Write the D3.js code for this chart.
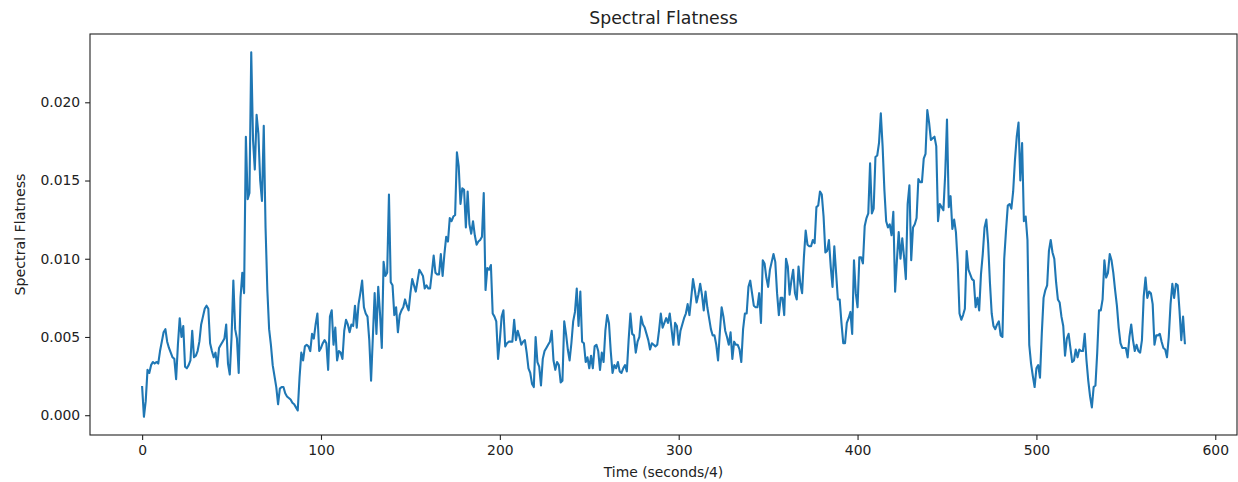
<!DOCTYPE html>
<html>
<head>
<script src="https://d3js.org/d3.v7.min.js"></script>
<style>
    body{margin:0;background:#fff;}
    text{font-family:"DejaVu Sans",sans-serif;}
</style>
</head>
<body>
<svg id="chart" width="1238" height="482"></svg>
<script>
// spectral flatness, one value per quarter second
const flatness=[
0.0018,-0.0001,0.0009,0.0029,0.0027,0.0032,0.0034,0.0033,0.0034,0.0033,
0.0041,0.0047,0.0053,0.0055,0.0047,0.0043,0.0040,0.0037,0.0036,0.0023,
0.0045,0.0062,0.0050,0.0057,0.0031,0.0030,0.0032,0.0035,0.0054,0.0037,
0.0038,0.0041,0.0047,0.0058,0.0063,0.0068,0.0070,0.0068,0.0046,0.0041,
0.0037,0.0040,0.0031,0.0043,0.0045,0.0047,0.0049,0.0058,0.0033,0.0026,
0.0050,0.0086,0.0055,0.0049,0.0027,0.0075,0.0091,0.0078,0.0178,0.0138,
0.0142,0.0232,0.0176,0.0157,0.0192,0.0180,0.0150,0.0137,0.0185,0.0120,
0.0080,0.0055,0.0045,0.0032,0.0025,0.0018,0.0007,0.0017,0.0018,0.0018,
0.0014,0.0012,0.0011,0.0010,0.0008,0.0007,0.0005,0.0003,0.0024,0.0040,
0.0035,0.0044,0.0045,0.0044,0.0041,0.0052,0.0049,0.0058,0.0065,0.0041,
0.0043,0.0046,0.0048,0.0046,0.0029,0.0063,0.0067,0.0045,0.0056,0.0035,
0.0041,0.0040,0.0036,0.0054,0.0061,0.0058,0.0053,0.0058,0.0057,0.0070,
0.0056,0.0071,0.0078,0.0086,0.0069,0.0065,0.0063,0.0048,0.0022,0.0050,
0.0078,0.0052,0.0082,0.0065,0.0043,0.0098,0.0089,0.0091,0.0141,0.0085,
0.0083,0.0064,0.0069,0.0053,0.0064,0.0067,0.0069,0.0074,0.0070,0.0067,
0.0078,0.0087,0.0083,0.0079,0.0086,0.0093,0.0091,0.0089,0.0081,0.0083,
0.0081,0.0081,0.0091,0.0102,0.0091,0.0090,0.0090,0.0103,0.0089,0.0103,
0.0114,0.0111,0.0126,0.0124,0.0127,0.0128,0.0168,0.0159,0.0135,0.0145,
0.0144,0.0120,0.0143,0.0122,0.0116,0.0124,0.0115,0.0109,0.0111,0.0112,
0.0114,0.0142,0.0080,0.0094,0.0093,0.0096,0.0065,0.0063,0.0060,0.0036,
0.0048,0.0063,0.0067,0.0044,0.0046,0.0047,0.0047,0.0047,0.0061,0.0048,
0.0054,0.0050,0.0045,0.0047,0.0048,0.0040,0.0030,0.0027,0.0020,0.0018,
0.0050,0.0034,0.0031,0.0019,0.0036,0.0041,0.0043,0.0045,0.0047,0.0054,
0.0035,0.0029,0.0034,0.0032,0.0021,0.0022,0.0060,0.0052,0.0042,0.0035,
0.0046,0.0060,0.0066,0.0081,0.0057,0.0079,0.0047,0.0046,0.0034,0.0037,
0.0030,0.0038,0.0030,0.0044,0.0045,0.0041,0.0029,0.0040,0.0034,0.0054,
0.0064,0.0059,0.0041,0.0027,0.0032,0.0030,0.0034,0.0028,0.0027,0.0030,
0.0032,0.0028,0.0048,0.0065,0.0052,0.0051,0.0040,0.0047,0.0050,0.0063,
0.0058,0.0056,0.0052,0.0048,0.0042,0.0046,0.0045,0.0044,0.0045,0.0054,
0.0065,0.0056,0.0059,0.0062,0.0059,0.0065,0.0055,0.0045,0.0059,0.0057,
0.0045,0.0054,0.0058,0.0062,0.0065,0.0071,0.0064,0.0075,0.0087,0.0080,
0.0072,0.0077,0.0084,0.0077,0.0067,0.0079,0.0069,0.0062,0.0055,0.0051,
0.0051,0.0045,0.0035,0.0053,0.0069,0.0063,0.0054,0.0050,0.0045,0.0053,
0.0036,0.0047,0.0045,0.0045,0.0042,0.0034,0.0055,0.0065,0.0065,0.0082,
0.0086,0.0078,0.0070,0.0069,0.0069,0.0078,0.0059,0.0099,0.0097,0.0088,
0.0082,0.0093,0.0098,0.0103,0.0098,0.0078,0.0064,0.0075,0.0075,0.0064,
0.0100,0.0095,0.0077,0.0086,0.0093,0.0078,0.0074,0.0095,0.0084,0.0078,
0.0101,0.0118,0.0109,0.0108,0.0108,0.0112,0.0110,0.0133,0.0134,0.0143,
0.0141,0.0127,0.0104,0.0105,0.0112,0.0095,0.0082,0.0108,0.0091,0.0074,
0.0074,0.0059,0.0046,0.0046,0.0059,0.0062,0.0066,0.0052,0.0099,0.0078,
0.0069,0.0101,0.0101,0.0097,0.0121,0.0126,0.0129,0.0161,0.0129,0.0132,
0.0165,0.0166,0.0174,0.0193,0.0172,0.0144,0.0124,0.0120,0.0122,0.0115,
0.0130,0.0079,0.0099,0.0117,0.0100,0.0113,0.0101,0.0087,0.0135,0.0147,
0.0099,0.0120,0.0122,0.0126,0.0151,0.0149,0.0149,0.0164,0.0167,0.0195,
0.0187,0.0176,0.0177,0.0178,0.0172,0.0124,0.0135,0.0133,0.0131,0.0154,
0.0189,0.0133,0.0140,0.0119,0.0125,0.0117,0.0097,0.0065,0.0061,0.0064,
0.0068,0.0105,0.0093,0.0090,0.0087,0.0086,0.0069,0.0075,0.0067,0.0090,
0.0103,0.0120,0.0125,0.0110,0.0085,0.0065,0.0057,0.0055,0.0058,0.0060,
0.0051,0.0050,0.0100,0.0118,0.0134,0.0135,0.0132,0.0143,0.0163,0.0178,
0.0187,0.0150,0.0174,0.0124,0.0127,0.0112,0.0045,0.0033,0.0025,0.0018,
0.0030,0.0032,0.0024,0.0052,0.0075,0.0080,0.0083,0.0105,0.0112,0.0104,
0.0100,0.0085,0.0074,0.0072,0.0063,0.0057,0.0038,0.0049,0.0052,0.0043,
0.0034,0.0035,0.0042,0.0037,0.0042,0.0041,0.0041,0.0052,0.0035,0.0022,
0.0012,0.0005,0.0018,0.0019,0.0040,0.0067,0.0067,0.0074,0.0099,0.0088,
0.0091,0.0103,0.0099,0.0091,0.0080,0.0070,0.0056,0.0046,0.0043,0.0043,
0.0043,0.0037,0.0050,0.0058,0.0048,0.0041,0.0045,0.0041,0.0040,0.0048,
0.0076,0.0088,0.0075,0.0079,0.0078,0.0071,0.0045,0.0051,0.0051,0.0052,
0.0047,0.0043,0.0042,0.0037,0.0050,0.0071,0.0084,0.0075,0.0084,0.0083,
0.0067,0.0048,0.0063,0.0046
];
const xTicks=[0,100,200,300,400,500,600];
const yTicks=[0,0.005,0.010,0.015,0.020];
const chartTitle="Spectral Flatness";
const xLabel="Time (seconds/4)";
const yLabel="Spectral Flatness";

let svg=d3.select("#chart");
let plotLeft=90, plotRight=1237, plotTop=34, plotBottom=435;

// matplotlib style 5% margins around the data
let n=flatness.length;
let xPad=(n-1)*0.05;
let yExt=d3.extent(flatness);
let yPad=(yExt[1]-yExt[0])*0.05;

let x=d3.scaleLinear().domain([-xPad, n-1+xPad]).range([plotLeft, plotRight]);
let y=d3.scaleLinear().domain([yExt[0]-yPad, yExt[1]+yPad]).range([plotBottom, plotTop]);

let tickLen=4.9, tickPad=4.9;

svg.append("g")
    .attr("transform", "translate(0,"+plotBottom+")")
    .call(d3.axisBottom(x).tickValues(xTicks).tickFormat(d3.format("d"))
        .tickSize(tickLen).tickPadding(tickPad).tickSizeOuter(0));

svg.append("g")
    .attr("transform", "translate("+plotLeft+",0)")
    .call(d3.axisLeft(y).tickValues(yTicks).tickFormat(d3.format(".3f"))
        .tickSize(tickLen).tickPadding(tickPad).tickSizeOuter(0));

svg.selectAll(".domain").remove();
svg.selectAll(".tick line").attr("stroke", "#222").attr("stroke-width", 1.1);
svg.selectAll(".tick text").attr("fill", "#222").style("font-size", "13.9px")
    .style("font-family", "DejaVu Sans");

let line=d3.line()
    .x((d, i)=>x(i))
    .y(d=>y(d));

svg.append("path")
    .datum(flatness)
    .attr("d", line)
    .attr("fill", "none")
    .attr("stroke", "#1f77b4")
    .attr("stroke-width", 2.1)
    .attr("stroke-linejoin", "round")
    .attr("stroke-linecap", "square");

// frame
svg.append("rect")
    .attr("x", plotLeft).attr("y", plotTop)
    .attr("width", plotRight-plotLeft).attr("height", plotBottom-plotTop)
    .attr("fill", "none").attr("stroke", "#222").attr("stroke-width", 1.1);

svg.append("text")
    .attr("x", (plotLeft+plotRight)/2).attr("y", plotTop-10)
    .attr("text-anchor", "middle")
    .attr("fill", "#222")
    .style("font-size", "17.3px")
    .text(chartTitle);

svg.append("text")
    .attr("x", (plotLeft+plotRight)/2).attr("y", 477)
    .attr("text-anchor", "middle")
    .attr("fill", "#222")
    .style("font-size", "13.9px")
    .text(xLabel);

svg.append("text")
    .attr("transform", "translate(25,"+((plotTop+plotBottom)/2)+") rotate(-90)")
    .attr("text-anchor", "middle")
    .attr("fill", "#222")
    .style("font-size", "14.2px")
    .text(yLabel);
</script>
</body>
</html>
